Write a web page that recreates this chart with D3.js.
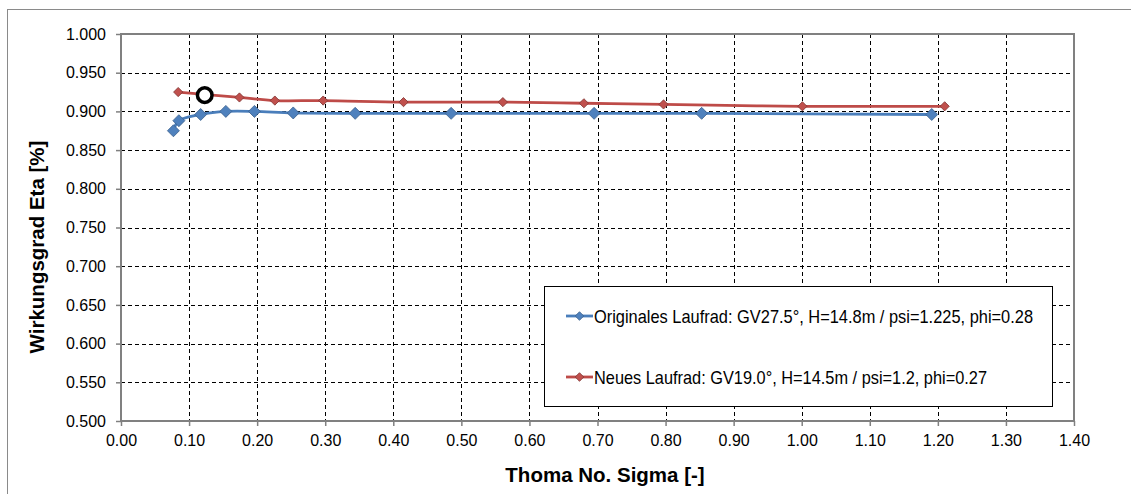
<!DOCTYPE html>
<html>
<head>
<meta charset="utf-8">
<script src="https://cdn.jsdelivr.net/npm/d3@7"></script>
<style>
	body { margin: 0; background: #fff; }
	text { font-family: "Liberation Sans", Arial, sans-serif; fill: #000; }
</style>
</head>
<body>
<div id="chart"></div>
<script>
	// measured values (Thoma sigma vs. efficiency)
	var sigmaOrig = [0.077, 0.085, 0.117, 0.154, 0.196, 0.253, 0.344, 0.485, 0.695, 0.853, 1.191];
	var etaOrig = [0.875, 0.888, 0.896, 0.900, 0.900, 0.898, 0.8975, 0.8975, 0.8975, 0.8975, 0.896];
	var sigmaNew = [0.084, 0.174, 0.226, 0.297, 0.415, 0.561, 0.680, 0.797, 1.001, 1.210];
	var etaNew = [0.925, 0.918, 0.914, 0.914, 0.912, 0.912, 0.9105, 0.909, 0.9066, 0.9066];
	var markedPoint = [0.123, 0.921];

	var seriesNames = [
		"Originales Laufrad: GV27.5°, H=14.8m / psi=1.225, phi=0.28",
		"Neues Laufrad: GV19.0°, H=14.5m / psi=1.2, phi=0.27"
	];
	var xTicks = d3.range(0, 1.401, 0.1);
	var yTicks = d3.range(0.5, 1.0001, 0.05);

	var width = 1131, height = 494;
	// plot area edges (note: "top" is reserved on window, so use plot* names)
	var plotLeft = 121, plotRight = 1074, plotTop = 34, plotBottom = 421;

	var svg = d3.select("#chart").append("svg")
		.attr("width", width)
		.attr("height", height);

	// chart frame
	svg.append("rect")
		.attr("x", 7.5).attr("y", 9.5)
		.attr("width", 1140).attr("height", 500)
		.attr("fill", "none")
		.attr("stroke", "#8a8a8a");

	var x = d3.scaleLinear().domain([0, 1.4]).range([plotLeft, plotRight]);
	var y = d3.scaleLinear().domain([0.5, 1.0]).range([plotBottom, plotTop]);

	// grid
	svg.append("g").selectAll("line")
		.data(yTicks.slice(1, -1))
		.enter().append("line")
		.attr("x1", plotLeft).attr("x2", plotRight)
		.attr("y1", function (d) { return Math.round(y(d)) + 0.5; })
		.attr("y2", function (d) { return Math.round(y(d)) + 0.5; })
		.attr("stroke", "#000")
		.attr("stroke-dasharray", "4,3");

	svg.append("g").selectAll("line")
		.data(xTicks.slice(1, -1))
		.enter().append("line")
		.attr("y1", plotTop).attr("y2", plotBottom)
		.attr("x1", function (d) { return Math.round(x(d)) + 0.5; })
		.attr("x2", function (d) { return Math.round(x(d)) + 0.5; })
		.attr("stroke", "#000")
		.attr("stroke-dasharray", "4,3");

	// axes
	var xAxis = d3.axisBottom(x).tickValues(xTicks)
		.tickFormat(d3.format(".2f")).tickSize(5).tickPadding(9);
	var yAxis = d3.axisLeft(y).tickValues(yTicks)
		.tickFormat(d3.format(".3f")).tickSize(5).tickPadding(10);

	var gx = svg.append("g").attr("transform", "translate(0," + plotBottom + ")").call(xAxis);
	var gy = svg.append("g").attr("transform", "translate(" + plotLeft + ",0)").call(yAxis);
	[gx, gy].forEach(function (g) {
		g.select(".domain").remove();
		g.selectAll(".tick line").attr("stroke", "#808080").attr("stroke-width", 1.5);
		g.selectAll(".tick text").style("font-size", "16px").attr("fill", "#000");
	});

	// plot area border
	svg.append("rect")
		.attr("x", plotLeft).attr("y", plotTop)
		.attr("width", plotRight - plotLeft).attr("height", plotBottom - plotTop)
		.attr("fill", "none")
		.attr("stroke", "#808080")
		.attr("stroke-width", 2);

	// axis titles
	svg.append("text")
		.attr("x", 605).attr("y", 482)
		.attr("text-anchor", "middle")
		.style("font-size", "20.5px").style("font-weight", "bold")
		.text("Thoma No. Sigma [-]");

	svg.append("text")
		.attr("transform", "translate(44,247) rotate(-90)")
		.attr("text-anchor", "middle")
		.style("font-size", "20.5px").style("font-weight", "bold")
		.text("Wirkungsgrad Eta [%]");

	var line = d3.line()
		.x(function (d) { return x(d[0]); })
		.y(function (d) { return y(d[1]); })
		.curve(d3.curveCatmullRom.alpha(0.5));

	var diamond = function (r) {
		return "M0," + (-r) + "L" + r + ",0L0," + r + "L" + (-r) + ",0Z";
	};

	var series = [
		{ xs: sigmaOrig, ys: etaOrig, color: "#4a7ebb", fill: "#4f81bd", edge: "#3a5f8c", r: 6 },
		{ xs: sigmaNew, ys: etaNew, color: "#be4b48", fill: "#c0504d", edge: "#7f3331", r: 4.6 }
	];

	series.forEach(function (s) {
		var pts = s.xs.map(function (v, i) { return [v, s.ys[i]]; });
		svg.append("path")
			.datum(pts)
			.attr("d", line)
			.attr("fill", "none")
			.attr("stroke", s.color)
			.attr("stroke-width", 2.8);
		svg.append("g").selectAll("path")
			.data(pts)
			.enter().append("path")
			.attr("transform", function (d) { return "translate(" + x(d[0]) + "," + y(d[1]) + ")"; })
			.attr("d", diamond(s.r))
			.attr("fill", s.fill)
			.attr("stroke", s.edge)
			.attr("stroke-width", 0.8);
	});

	// highlighted operating point
	svg.append("circle")
		.attr("cx", x(markedPoint[0]))
		.attr("cy", y(markedPoint[1]))
		.attr("r", 7.3)
		.attr("fill", "#fff")
		.attr("stroke", "#000")
		.attr("stroke-width", 3.5);

	// legend
	var legend = svg.append("g");
	legend.append("rect")
		.attr("x", 544.5).attr("y", 286.5)
		.attr("width", 508).attr("height", 120)
		.attr("fill", "#fff")
		.attr("stroke", "#000");

	var legendRows = [316, 377];
	var legendWidths = [439, 393];
	series.forEach(function (s, i) {
		var ly = legendRows[i];
		legend.append("line")
			.attr("x1", 566).attr("x2", 593)
			.attr("y1", ly).attr("y2", ly)
			.attr("stroke", s.color)
			.attr("stroke-width", 2.8);
		legend.append("path")
			.attr("transform", "translate(579.5," + ly + ")")
			.attr("d", diamond(4.3))
			.attr("fill", s.fill)
			.attr("stroke", s.edge)
			.attr("stroke-width", 0.8);
		legend.append("text")
			.attr("x", 594).attr("y", ly + 6.5)
			.attr("textLength", legendWidths[i])
			.attr("lengthAdjust", "spacingAndGlyphs")
			.style("font-size", "18.5px")
			.text(seriesNames[i]);
	});
</script>
</body>
</html>
